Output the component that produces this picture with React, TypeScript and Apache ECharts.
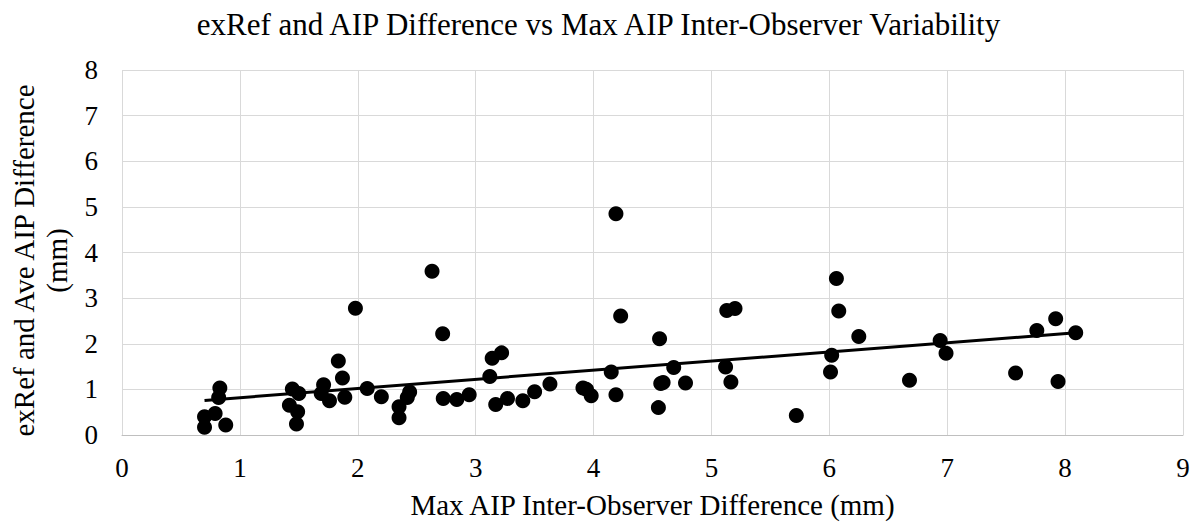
import React, { useEffect, useRef } from "react";
import * as echarts from "echarts";

const titleText = "exRef and AIP Difference vs Max AIP Inter-Observer Variability";
const xAxisName = "Max AIP Inter-Observer Difference (mm)";
const yAxisName = "exRef and Ave AIP Difference\n(mm)";

const xValues: number[] = [
  0.70, 0.70, 0.79, 0.83, 0.82, 0.88, 1.445, 1.50, 1.42, 1.49, 1.48, 1.71, 1.69, 1.76,
  1.835, 1.87, 1.89, 1.98, 2.08, 2.20, 2.35, 2.35, 2.44, 2.42, 2.63, 2.72, 2.725, 2.84,
  2.945, 3.12, 3.14, 3.22, 3.17, 3.27, 3.40, 3.50, 3.63, 3.91, 3.94, 3.98, 4.15, 4.19,
  4.19, 4.23, 4.56, 4.57, 4.59, 4.55, 4.68, 4.78, 5.13, 5.20, 5.12, 5.165, 5.72, 6.06,
  6.08, 6.25, 6.02, 6.01, 6.68, 6.94, 6.99, 7.58, 7.76, 7.92, 7.94, 8.09,
];
const yValues: number[] = [
  0.40, 0.17, 0.47, 1.03, 0.82, 0.22, 1.01, 0.91, 0.65, 0.51, 0.24, 1.10, 0.91, 0.75,
  1.62, 1.25, 0.83, 2.78, 1.02, 0.84, 0.62, 0.38, 0.94, 0.82, 3.59, 2.22, 0.80, 0.78,
  0.88, 1.28, 1.68, 1.80, 0.67, 0.80, 0.75, 0.95, 1.12, 1.03, 1.00, 0.86, 1.38, 0.88,
  4.85, 2.61, 2.11, 1.13, 1.15, 0.60, 1.48, 1.14, 2.73, 2.77, 1.49, 1.16, 0.43, 3.43,
  2.72, 2.16, 1.75, 1.38, 1.20, 2.07, 1.79, 1.36, 2.29, 2.55, 1.17, 2.24,
];

function linearFit(xs: number[], ys: number[]) {
  const n = xs.length;
  let sx = 0, sy = 0, sxx = 0, sxy = 0;
  for (let i = 0; i < n; i++) {
    sx += xs[i]; sy += ys[i]; sxx += xs[i] * xs[i]; sxy += xs[i] * ys[i];
  }
  const slope = (n * sxy - sx * sy) / (n * sxx - sx * sx);
  const intercept = (sy - slope * sx) / n;
  return { slope, intercept };
}

export default function App() {
  const ref = useRef<HTMLDivElement>(null);
  useEffect(() => {
    if (!ref.current) return;
    const chart = echarts.init(ref.current, undefined, { renderer: "svg" });
    const points = xValues.map((x, i) => [x, yValues[i]]);
    const { slope, intercept } = linearFit(xValues, yValues);
    const xMin = Math.min(...xValues);
    const xMax = Math.max(...xValues);
    const trend = [
      [xMin, intercept + slope * xMin],
      [xMax, intercept + slope * xMax],
    ];
    const font = "'Liberation Serif', 'Times New Roman', serif";
    chart.setOption({
      animation: false,
      textStyle: { fontFamily: font },
      title: {
        text: titleText,
        left: "center",
        top: 9,
        padding: 0,
        textStyle: { fontFamily: font, fontSize: 31, fontWeight: "normal", color: "#000" },
      },
      grid: {
        left: 122,
        right: 14,
        top: 70,
        bottom: 88,
        containLabel: false,
        outerBoundsMode: "none",
      },
      xAxis: {
        type: "value",
        min: 0,
        max: 9,
        interval: 1,
        name: xAxisName,
        nameLocation: "middle",
        nameGap: 55,
        nameTextStyle: { fontFamily: font, fontSize: 29, color: "#000" },
        axisLine: { show: true, lineStyle: { color: "#bfbfbf", width: 1 } },
        axisTick: { show: false },
        axisLabel: { fontFamily: font, fontSize: 27, color: "#000", margin: 19 },
        splitLine: { show: true, lineStyle: { color: "#d9d9d9", width: 1 } },
      },
      yAxis: {
        type: "value",
        min: 0,
        max: 8,
        interval: 1,
        name: yAxisName,
        nameLocation: "middle",
        nameRotate: 90,
        nameGap: 45,
        nameTextStyle: {
          fontFamily: font,
          fontSize: 29,
          color: "#000",
          lineHeight: 33,
          padding: [0, 16, 0, 0],
        },
        axisLine: { show: false },
        axisTick: { show: false },
        axisLabel: { fontFamily: font, fontSize: 27, color: "#000", margin: 24 },
        splitLine: { show: true, lineStyle: { color: "#d9d9d9", width: 1 } },
      },
      series: [
        {
          type: "scatter",
          data: points,
          symbol: "circle",
          symbolSize: 15,
          itemStyle: { color: "#000", opacity: 1 },
          z: 3,
        },
        {
          type: "line",
          data: trend,
          showSymbol: false,
          symbol: "none",
          lineStyle: { color: "#000", width: 3 },
          z: 4,
        },
      ],
    });
    return () => chart.dispose();
  }, []);
  return (
    <div
      ref={ref}
      style={{ position: "fixed", left: 0, top: 0, width: 1197, height: 523, background: "#fff" }}
    />
  );
}
